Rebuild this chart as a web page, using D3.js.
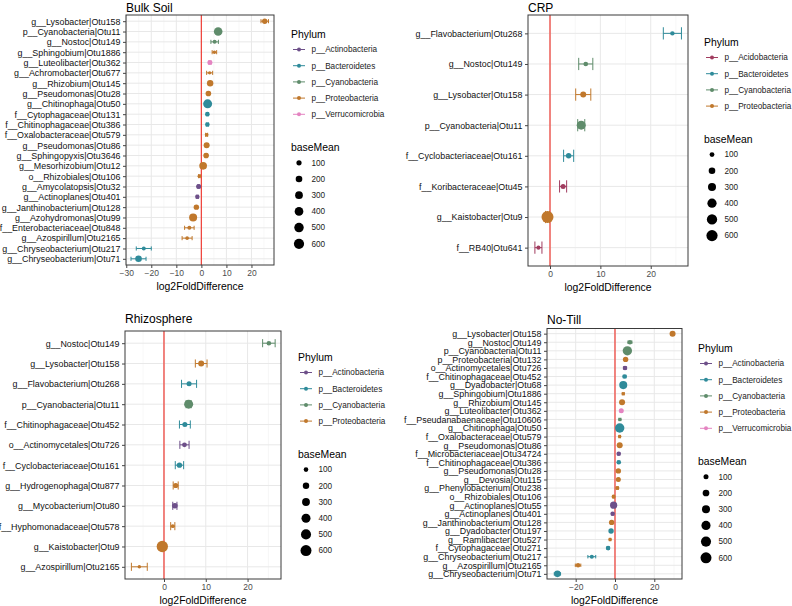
<!DOCTYPE html>
<html><head><meta charset="utf-8">
<script src="https://cdn.jsdelivr.net/npm/d3@7/dist/d3.min.js"></script>
<style>body{margin:0;background:#fff} svg text{font-family:"Liberation Sans",Arial,Helvetica,sans-serif}</style>
</head><body><svg id="c" width="792" height="606"></svg>
<script>
// ---------------- DATA ----------------
const phylumColors = {
  "p__Acidobacteria": "#a13c5f",
  "p__Actinobacteria": "#6d4f89",
  "p__Bacteroidetes": "#2f8b9a",
  "p__Cyanobacteria": "#5f8c6b",
  "p__Proteobacteria": "#c0782c",
  "p__Verrucomicrobia": "#e484c1"
};
const sizeBreaks = [100, 200, 300, 400, 500, 600];
const AC = "p__Actinobacteria", BA = "p__Bacteroidetes", CY = "p__Cyanobacteria",
      PR = "p__Proteobacteria", VE = "p__Verrucomicrobia", AD = "p__Acidobacteria";

// Bulk Soil
const bulkLabels = ["g__Lysobacter|Otu158","p__Cyanobacteria|Otu11","g__Nostoc|Otu149","g__Sphingobium|Otu1886",
  "g__Luteolibacter|Otu362","g__Achromobacter|Otu677","g__Rhizobium|Otu145","g__Pseudomonas|Otu28",
  "g__Chitinophaga|Otu50","f__Cytophagaceae|Otu131","f__Chitinophagaceae|Otu386","f__Oxalobacteraceae|Otu579",
  "g__Pseudomonas|Otu86","g__Sphingopyxis|Otu3646","g__Mesorhizobium|Otu12","o__Rhizobiales|Otu106",
  "g__Amycolatopsis|Otu32","g__Actinoplanes|Otu401","g__Janthinobacterium|Otu128","g__Azohydromonas|Otu99",
  "f__Enterobacteriaceae|Otu848","g__Azospirillum|Otu2165","g__Chryseobacterium|Otu217","g__Chryseobacterium|Otu71"];
const bulkLfc = [25.3, 6.7, 5.3, 5.2, 3.4, 3.3, 3.5, 2.8, 2.5, 2.4, 2.4, 2.1, 2.1, 1.9, 0.7, -0.8, -1.1, -1.6, -2.0, -3.3, -4.8, -5.7, -23.0, -25.1];
const bulkErr = [1.5, 0.8, 1.5, 0.9, 0.5, 1.2, 0.6, 0.5, 0.5, 0.4, 0.4, 0.4, 0.5, 0.5, 0.6, 0.3, 0.4, 0.4, 0.5, 0.6, 1.9, 2.0, 3.0, 3.0];
const bulkBaseMean = [112, 395, 42, 23, 89, 23, 182, 125, 441, 69, 69, 30, 152, 125, 300, 30, 89, 60, 112, 330, 42, 30, 42, 200];
const bulkPhylum = [PR, CY, CY, PR, VE, PR, PR, PR, BA, BA, BA, PR, PR, PR, PR, PR, AC, AC, PR, PR, PR, PR, BA, BA];

// CRP
const crpLabels = ["g__Flavobacterium|Otu268","g__Nostoc|Otu149","g__Lysobacter|Otu158","p__Cyanobacteria|Otu11",
  "f__Cyclobacteriaceae|Otu161","f__Koribacteraceae|Otu45","g__Kaistobacter|Otu9","f__RB40|Otu641"];
const crpLfc = [24.3, 7.1, 6.6, 6.2, 3.7, 2.6, -0.5, -2.3];
const crpErr = [1.8, 1.4, 1.5, 0.7, 1.0, 0.7, 0.4, 0.7];
const crpBaseMean = [85, 95, 160, 380, 130, 110, 690, 70];
const crpPhylum = [BA, CY, PR, CY, BA, AD, PR, AD];

// Rhizosphere
const rhizoLabels = ["g__Nostoc|Otu149","g__Lysobacter|Otu158","g__Flavobacterium|Otu268","p__Cyanobacteria|Otu11",
  "f__Chitinophagaceae|Otu452","o__Actinomycetales|Otu726","f__Cyclobacteriaceae|Otu161","g__Hydrogenophaga|Otu877",
  "g__Mycobacterium|Otu80","f__Hyphomonadaceae|Otu578","g__Kaistobacter|Otu9","g__Azospirillum|Otu2165"];
const rhizoLfc = [25.1, 8.9, 6.0, 5.9, 5.0, 4.9, 3.7, 2.8, 2.6, 2.1, -0.4, -5.9];
const rhizoErr = [1.5, 1.4, 1.8, 0.6, 1.3, 1.1, 1.0, 0.6, 0.5, 0.5, 0.5, 1.9];
const rhizoBaseMean = [100, 174, 120, 400, 120, 110, 135, 130, 150, 70, 640, 55];
const rhizoPhylum = [CY, PR, BA, CY, BA, AC, BA, PR, AC, PR, PR, PR];

// No-Till
const ntLabels = ["g__Lysobacter|Otu158","g__Nostoc|Otu149","p__Cyanobacteria|Otu11","p__Proteobacteria|Otu132",
  "o__Actinomycetales|Otu726","f__Chitinophagaceae|Otu452","g__Dyadobacter|Otu68","g__Sphingobium|Otu1886",
  "g__Rhizobium|Otu145","g__Luteolibacter|Otu362","f__Pseudanabaenaceae|Otu10606","g__Chitinophaga|Otu50",
  "f__Oxalobacteraceae|Otu579","g__Pseudomonas|Otu86","f__Microbacteriaceae|Otu34724","f__Chitinophagaceae|Otu386",
  "g__Pseudomonas|Otu28","g__Devosia|Otu115","g__Phenylobacterium|Otu238","o__Rhizobiales|Otu106",
  "g__Actinoplanes|Otu55","g__Actinoplanes|Otu401","g__Janthinobacterium|Otu128","g__Dyadobacter|Otu197",
  "g__Ramlibacter|Otu527","f__Cytophagaceae|Otu271","g__Chryseobacterium|Otu217","g__Azospirillum|Otu2165",
  "g__Chryseobacterium|Otu71"];
const ntLfc = [29.3, 7.6, 6.3, 5.4, 5.1, 4.9, 4.2, 4.2, 3.6, 3.2, 2.5, 2.4, 2.4, 2.4, 1.9, 1.9, 1.7, 1.7, 1.2, -0.7, -0.7, -1.2, -1.7, -2.0, -2.5, -3.5, -11.8, -18.8, -29.3];
const ntErr = [0.8, 1.0, 0.7, 0.6, 0.8, 0.7, 0.6, 0.5, 0.6, 0.5, 0.5, 0.5, 0.4, 0.5, 0.5, 0.5, 0.5, 0.5, 0.5, 0.4, 0.6, 0.5, 0.5, 0.5, 0.4, 0.6, 2.0, 1.4, 1.6];
const ntBaseMean = [155, 80, 420, 120, 72, 80, 300, 37, 155, 100, 40, 425, 40, 155, 80, 80, 120, 100, 60, 60, 235, 80, 120, 120, 40, 80, 60, 80, 190];
const ntPhylum = [PR, CY, CY, PR, AC, BA, BA, PR, PR, VE, CY, BA, PR, PR, AC, BA, PR, PR, PR, PR, AC, AC, PR, BA, PR, BA, BA, PR, BA];

// ---------------- DRAW ----------------
const svg = d3.select("#c");
svg.append("rect").attr("width", 792).attr("height", 606).attr("fill", "#fff");

function drawPanel(cfg, labels, lfc, err, bm, phy) {
  const g = svg.append("g");
  const x = d3.scaleLinear().domain(cfg.domain).range([cfg.left, cfg.right]);
  const y = d3.scalePoint().domain(labels).range([cfg.top, cfg.bottom]).padding(0.6);
  const r = d3.scaleSqrt().domain([100, 600]).range(cfg.rRange);
  const rows = labels.map((l, i) => ({label: l, v: lfc[i], e: err[i], bm: bm[i], p: phy[i]}));

  g.append("rect").attr("x", cfg.left).attr("y", cfg.top)
    .attr("width", cfg.right - cfg.left).attr("height", cfg.bottom - cfg.top).attr("fill", "#fff");
  g.selectAll(".mn").data(cfg.minor.filter(t => t > cfg.domain[0] && t < cfg.domain[1])).join("line")
    .attr("x1", d => x(d)).attr("x2", d => x(d)).attr("y1", cfg.top).attr("y2", cfg.bottom)
    .attr("stroke", "#f2f2f2").attr("stroke-width", 0.6);
  g.selectAll(".mj").data(cfg.ticks).join("line")
    .attr("x1", d => x(d)).attr("x2", d => x(d)).attr("y1", cfg.top).attr("y2", cfg.bottom)
    .attr("stroke", "#e8e8e8").attr("stroke-width", 1);
  g.selectAll(".hg").data(labels).join("line")
    .attr("x1", cfg.left).attr("x2", cfg.right).attr("y1", d => y(d)).attr("y2", d => y(d))
    .attr("stroke", "#e8e8e8").attr("stroke-width", 1);
  g.append("line").attr("x1", x(0)).attr("x2", x(0)).attr("y1", cfg.top).attr("y2", cfg.bottom)
    .attr("stroke", "#ef4840").attr("stroke-width", 1.3);
  const cap = y.step() * 0.2;
  const eb = g.selectAll(".eb").data(rows).join("g").attr("stroke", d => phylumColors[d.p]).attr("stroke-width", 1);
  eb.append("line").attr("x1", d => x(d.v - d.e)).attr("x2", d => x(d.v + d.e)).attr("y1", d => y(d.label)).attr("y2", d => y(d.label));
  eb.append("line").attr("x1", d => x(d.v - d.e)).attr("x2", d => x(d.v - d.e)).attr("y1", d => y(d.label) - cap).attr("y2", d => y(d.label) + cap);
  eb.append("line").attr("x1", d => x(d.v + d.e)).attr("x2", d => x(d.v + d.e)).attr("y1", d => y(d.label) - cap).attr("y2", d => y(d.label) + cap);
  g.selectAll(".pt").data(rows).join("circle")
    .attr("cx", d => x(d.v)).attr("cy", d => y(d.label)).attr("r", d => r(d.bm))
    .attr("fill", d => phylumColors[d.p]);
  g.append("rect").attr("x", cfg.left).attr("y", cfg.top)
    .attr("width", cfg.right - cfg.left).attr("height", cfg.bottom - cfg.top)
    .attr("fill", "none").attr("stroke", "#3a3a3a").attr("stroke-width", 1);
  const ay = g.append("g").attr("transform", `translate(${cfg.left},0)`)
    .call(d3.axisLeft(y).tickSize(3).tickPadding(2.5));
  ay.select(".domain").remove();
  ay.selectAll("line").attr("stroke", "#444");
  ay.selectAll("text").attr("font-size", 8.9).attr("fill", "#111").attr("font-family", "Liberation Sans, Arial, sans-serif");
  const ax = g.append("g").attr("transform", `translate(0,${cfg.bottom})`)
    .call(d3.axisBottom(x).tickValues(cfg.ticks).tickSize(3).tickPadding(2));
  ax.select(".domain").remove();
  ax.selectAll("line").attr("stroke", "#444");
  ax.selectAll("text").attr("font-size", 8.5).attr("fill", "#4d4d4d").attr("font-family", "Liberation Sans, Arial, sans-serif");
  g.append("text").attr("x", cfg.left).attr("y", cfg.titleY).attr("font-size", 12).attr("fill", "#000").text(cfg.title);
  g.append("text").attr("x", (cfg.left + cfg.right) / 2).attr("y", cfg.bottom + 24.5)
    .attr("text-anchor", "middle").attr("font-size", 10.4).attr("fill", "#000").text("log2FoldDifference");
  const phyla = Array.from(new Set(phy)).sort();
  const L = g.append("g");
  const lx = cfg.lx;
  let yy = cfg.ly;
  L.append("text").attr("x", lx).attr("y", yy).attr("dy", "0.35em").attr("font-size", 10.4).text("Phylum");
  yy += 15.5;
  phyla.forEach((p, i) => {
    const cy = yy + i * 16.2;
    L.append("line").attr("x1", lx + 2).attr("x2", lx + 14).attr("y1", cy).attr("y2", cy)
      .attr("stroke", phylumColors[p]).attr("stroke-width", 1);
    L.append("circle").attr("cx", lx + 8).attr("cy", cy).attr("r", 2).attr("fill", phylumColors[p]);
    L.append("text").attr("x", lx + 20.5).attr("y", cy).attr("dy", "0.35em").attr("font-size", 8.2).attr("fill", "#1a1a1a").text(p);
  });
  yy += (phyla.length - 1) * 16.2 + 33;
  L.append("text").attr("x", lx).attr("y", yy).attr("dy", "0.35em").attr("font-size", 10.4).text("baseMean");
  yy += 15.5;
  sizeBreaks.forEach((b, i) => {
    const cy = yy + i * 16.2;
    L.append("circle").attr("cx", lx + 8).attr("cy", cy).attr("r", r(b)).attr("fill", "#000");
    L.append("text").attr("x", lx + 20.5).attr("y", cy).attr("dy", "0.35em").attr("font-size", 8.2).attr("fill", "#1a1a1a").text(b);
  });
}

drawPanel({title: "Bulk Soil", left: 126, right: 274, top: 15, bottom: 265, titleY: 12,
  domain: [-30.1, 29.0], ticks: [-30, -20, -10, 0, 10, 20], minor: [-25, -15, -5, 5, 15, 25],
  rRange: [2.6, 5.1], lx: 291, ly: 34}, bulkLabels, bulkLfc, bulkErr, bulkBaseMean, bulkPhylum);

drawPanel({title: "CRP", left: 528, right: 688, top: 15, bottom: 266, titleY: 12,
  domain: [-4.37, 27.4], ticks: [0, 10, 20], minor: [-5, 5, 15, 25],
  rRange: [2.4, 5.6], lx: 704, ly: 42}, crpLabels, crpLfc, crpErr, crpBaseMean, crpPhylum);

drawPanel({title: "Rhizosphere", left: 125, right: 281, top: 331, bottom: 579, titleY: 323,
  domain: [-9.33, 28.0], ticks: [0, 10, 20], minor: [-5, 5, 15, 25],
  rRange: [2.3, 5.5], lx: 298, ly: 357}, rhizoLabels, rhizoLfc, rhizoErr, rhizoBaseMean, rhizoPhylum);

drawPanel({title: "No-Till", left: 547, right: 682, top: 328.5, bottom: 579, titleY: 323.5,
  domain: [-34.6, 34.1], ticks: [-20, 0, 20], minor: [-30, -10, 10, 30],
  rRange: [2.5, 5.5], lx: 698, ly: 348}, ntLabels, ntLfc, ntErr, ntBaseMean, ntPhylum);
</script>
</body></html>
